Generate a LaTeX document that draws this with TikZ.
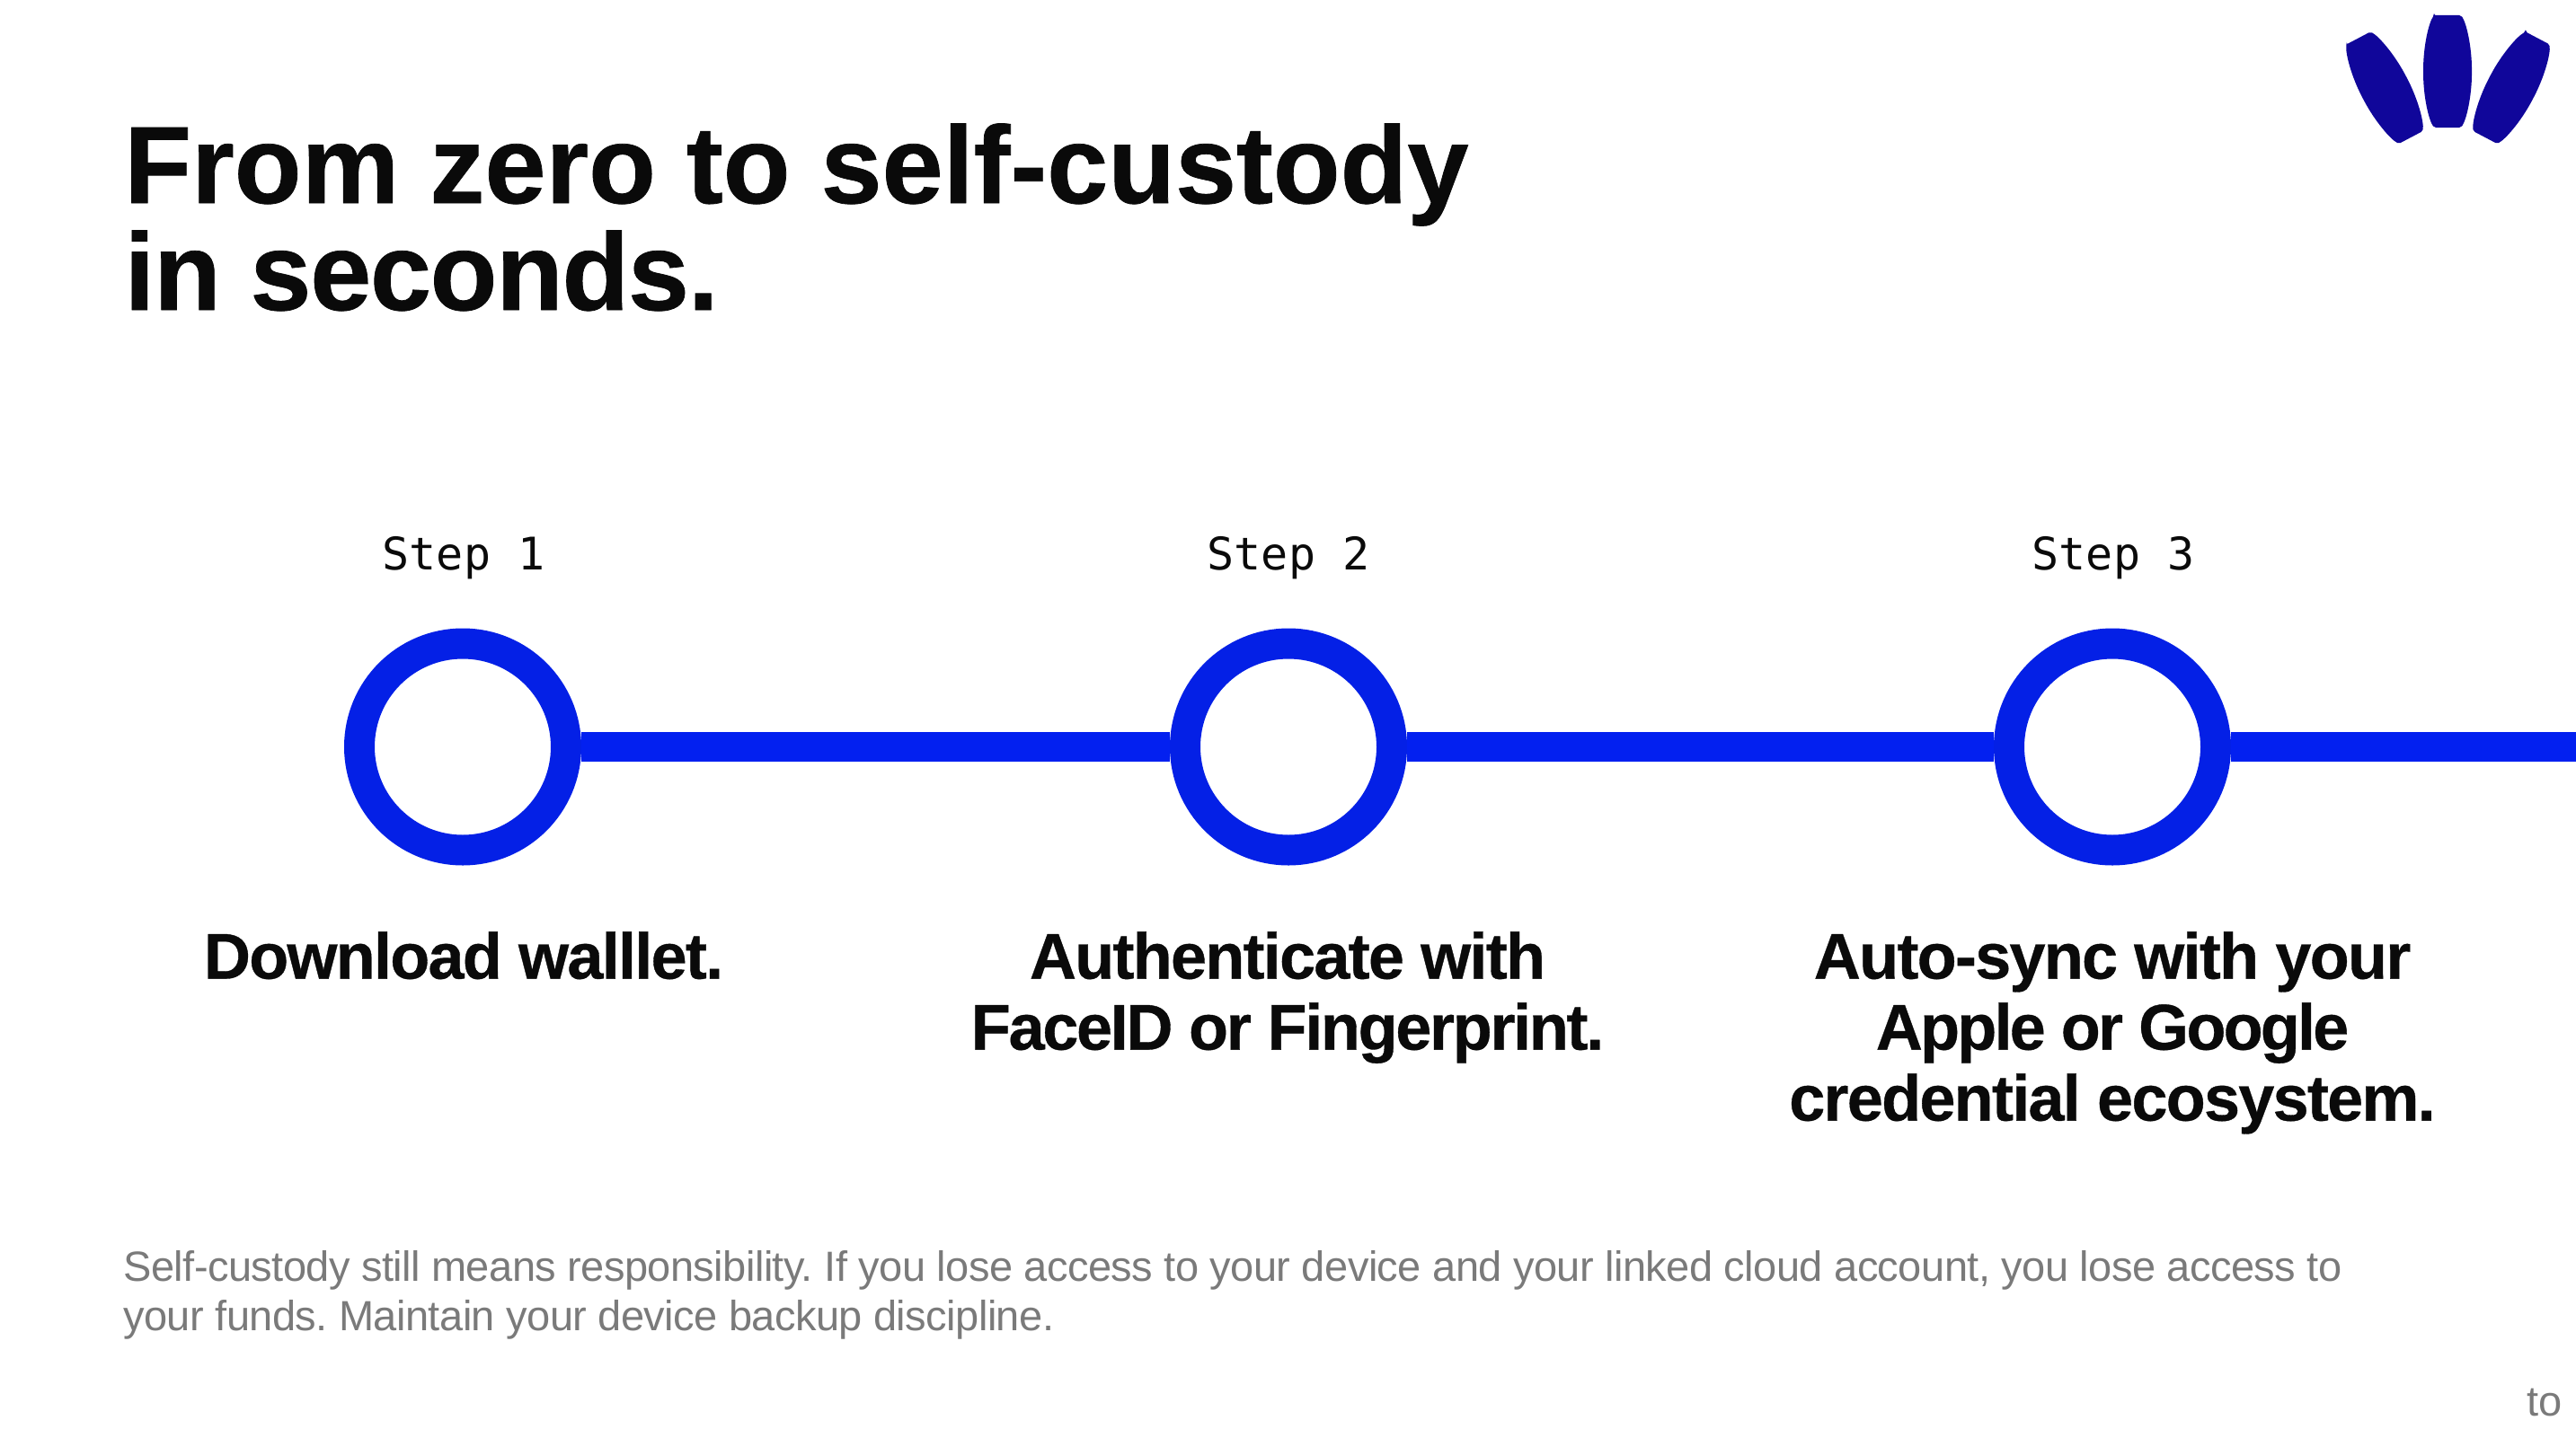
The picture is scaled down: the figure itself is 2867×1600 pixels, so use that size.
\documentclass[tikz,border=0pt]{standalone}
\usepackage{fontspec}
\setmainfont{Liberation Sans}
\newfontfamily\stepfont{DejaVu Sans Mono}
\newfontfamily\titlefont[FakeBold=0.6]{Liberation Sans Bold}
\newfontfamily\titletight[FakeBold=0.6,LetterSpace=-1.1]{Liberation Sans Bold}
\newfontfamily\headfont[LetterSpace=-2.4,FakeBold=0.5]{Liberation Sans Bold}
\newfontfamily\headtighter[LetterSpace=-3.2,FakeBold=0.5]{Liberation Sans Bold}
\newfontfamily\headtightest[LetterSpace=-3.9,FakeBold=0.5]{Liberation Sans Bold}
\newfontfamily\notefont[LetterSpace=-1.2]{Liberation Sans}
\tikzset{
  x=0.5pt,y=-0.5pt,
  ring/.style={circle,draw=ringblue,line width=17pt,inner sep=0pt,outer sep=8.5pt,minimum size=115pt,fill=white},
  bar/.style={draw=barblue,line width=16.5pt},
  titletext/.style={anchor=north west,inner sep=0pt,align=left,text=ink,font=\titlefont\fontsize{61.2}{59.5}\selectfont},
  steptext/.style={anchor=base,inner sep=0pt,text=ink,font=\stepfont\fontsize{25}{30}\selectfont},
  headtext/.style={anchor=north,inner sep=0pt,align=center,text=ink,font=\headfont\fontsize{36}{39.5}\selectfont},
  notetext/.style={anchor=north west,inner sep=0pt,align=left,text=note,font=\notefont\frenchspacing\fontsize{23.5}{27.5}\selectfont},
  petal/.style={fill=logoblue,rounded corners=1pt}
}
\definecolor{ringblue}{HTML}{0420E6}
\definecolor{barblue}{HTML}{0320F0}
\definecolor{ink}{HTML}{0A0A0A}
\definecolor{note}{HTML}{7A7A7A}
\definecolor{logoblue}{HTML}{10069A}
\newcommand{\petalshape}{(-15,-62.5) -- (15,-62.5) .. controls (21,-54) and (27,-28) .. (27,0) .. controls (27,28) and (21,54) .. (15,62.5) -- (-15,62.5) .. controls (-21,54) and (-27,28) .. (-27,0) .. controls (-27,-28) and (-21,-54) .. (-15,-62.5) -- cycle}
\begin{document}
\begin{tikzpicture}
\useasboundingbox (0,0) rectangle (2867,1600);
\fill[white] (0,0) rectangle (2867,1600);
\node[titletext] (title) at (138,137) {From zero to self-custody\\{\titletight in seconds.}};
\node[steptext] (s1) at (516,634) {Step 1};
\node[steptext] (s2) at (1434,634) {Step 2};
\node[steptext] (s3) at (2352,634) {Step 3};
\node[ring] (c1) at (515,831.5) {};
\node[ring] (c2) at (1434,831.5) {};
\node[ring] (c3) at (2351,831.5) {};
\coordinate (barend) at (2867,831.5);
\draw[bar] (c1.east) -- (c2.west);
\draw[bar] (c2.east) -- (c3.west);
\draw[bar] (c3.east) -- (barend);
\node[headtext] (h1) at (516,1037) {Download walllet.};
\node[headtext] (h2) at (1433,1037) {Authenticate with\\{\headtighter FaceID or Fingerprint.}};
\node[headtext] (h3) at (2351,1037) {Auto-sync with your\\{\headtightest Apple or Google}\\credential ecosystem.};
\node[notetext] (n) at (137,1392) {Self-custody still means responsibility. If you lose access to your device and your linked cloud account, you lose access to\\your funds. Maintain your device backup discipline.};
\node[anchor=base west,inner sep=0pt,text=note,font=\fontsize{23.5}{27.5}\selectfont] (pg) at (2812,1576) {to};
\fill[petal,shift={(2724,79.5)}] \petalshape;
\fill[petal,shift={(2654,97.7)},rotate=27.8] \petalshape;
\fill[petal,shift={(2795,97.7)},rotate=-27.8] \petalshape;
\end{tikzpicture}
\end{document}
